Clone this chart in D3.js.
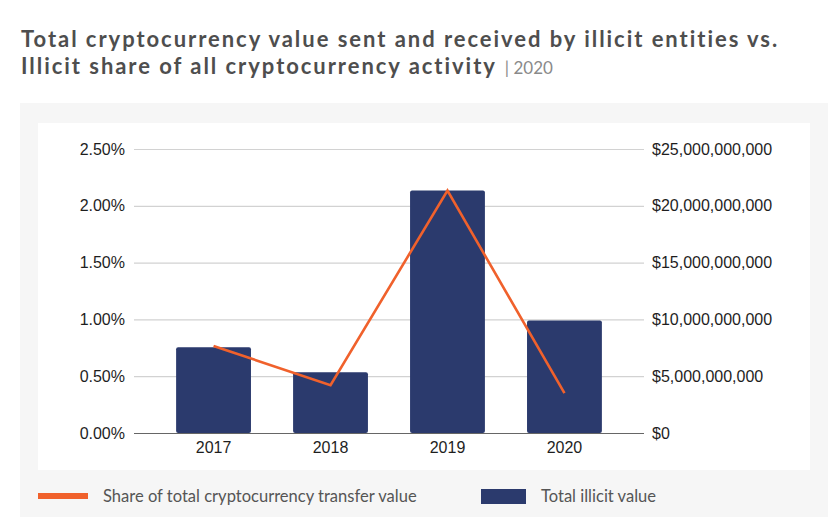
<!DOCTYPE html>
<html>
<head>
<meta charset="utf-8">
<script src="https://cdn.jsdelivr.net/npm/d3@7"></script>
<style>
  body { margin: 0; background: #fff; }
  svg { display: block; }
  .tick text { font-family: "Liberation Sans", Arial, sans-serif; font-size: 16px; fill: #1e1e1e; }
</style>
</head>
<body>
<svg id="chart" width="831" height="517"></svg>
<script>
// values
const years = ["2017", "2018", "2019", "2020"];
const illicitValue = [7.54e9, 5.35e9, 21.35e9, 9.91e9];   // USD, bars
const illicitShare = [0.766, 0.421, 2.134, 0.351];         // percent, line
const pctTicks = [0, 0.5, 1, 1.5, 2, 2.5];
const usdTicks = [0, 5e9, 10e9, 15e9, 20e9, 25e9];

const titleLines = [
    "Total cryptocurrency value sent and received by illicit entities vs.",
    "Illicit share of all cryptocurrency activity"
];
const titleSuffix = "| 2020";
const legendLabels = ["Share of total cryptocurrency transfer value", "Total illicit value"];

const orange = "#f0612c";
const navy = "#2b3a6d";

const svg = d3.select("#chart");

// shrink/grow a text's font size until it spans the wanted width
function fitWidth(sel, target) {
    const fs = parseFloat(sel.attr("font-size"));
    const w = sel.node().getComputedTextLength();
    sel.attr("font-size", (fs * target / w).toFixed(2));
}

// spread letters so the text spans the wanted width, keep the size
function spreadTo(sel, target) {
    const w = sel.node().getComputedTextLength();
    const n = sel.text().length;
    const ls = (target - w) / (n - 1);
    sel.attr("letter-spacing", ls.toFixed(3));
    return ls;
}

// title
const t1 = svg.append("text")
    .attr("x", 21).attr("y", 47)
    .attr("font-family", "Lato, 'Open Sans', sans-serif")
    .attr("font-weight", 700)
    .attr("font-size", 22)
    .attr("fill", "#4e4e4e")
    .text(titleLines[0]);
const ls = spreadTo(t1, 757);

const t2 = svg.append("text")
    .attr("x", 21).attr("y", 74)
    .attr("font-family", "Lato, 'Open Sans', sans-serif")
    .attr("font-weight", 700)
    .attr("font-size", 22)
    .attr("letter-spacing", ls.toFixed(3))
    .attr("fill", "#4e4e4e")
    .text(titleLines[1]);

const t2w = t2.node().getComputedTextLength();
svg.append("text")
    .attr("x", 21 + t2w + 8).attr("y", 74)
    .attr("font-family", "Lato, 'Open Sans', sans-serif")
    .attr("font-size", 17)
    .attr("fill", "#8a8a8a")
    .text(titleSuffix);

// panels
svg.append("rect")
    .attr("x", 20).attr("y", 103)
    .attr("width", 808).attr("height", 414)
    .attr("fill", "#f6f6f6");

svg.append("rect")
    .attr("x", 38).attr("y", 123)
    .attr("width", 772).attr("height", 347)
    .attr("fill", "#ffffff");

// plot area
const plotLeft = 134, plotRight = 644, plotTop = 149, plotBottom = 433;

const x = d3.scaleBand()
    .domain(years)
    .range([plotLeft, plotRight])
    .paddingInner(0.36)
    .paddingOuter(0.36);

const yPct = d3.scaleLinear().domain([0, 2.5]).range([plotBottom, plotTop]);
const yUsd = d3.scaleLinear().domain([0, 25e9]).range([plotBottom, plotTop]);

const leftAxis = svg.append("g")
    .attr("transform", `translate(${plotLeft},0)`)
    .call(d3.axisLeft(yPct)
        .tickValues(pctTicks)
        .tickSizeInner(-(plotRight - plotLeft))
        .tickSizeOuter(0)
        .tickPadding(9)
        .tickFormat(d => d3.format(".2f")(d) + "%"));
leftAxis.select(".domain").remove();
leftAxis.selectAll(".tick line")
    .attr("stroke", "#d2d2d2")
    .attr("stroke-width", 1.2);
leftAxis.selectAll(".tick").filter(d => d === 0).select("line").remove();

const rightAxis = svg.append("g")
    .attr("transform", `translate(${plotRight},0)`)
    .call(d3.axisRight(yUsd)
        .tickValues(usdTicks)
        .tickSize(0)
        .tickPadding(8)
        .tickFormat(d => "$" + d3.format(",")(d)));
rightAxis.select(".domain").remove();

// bars
svg.append("g")
    .selectAll("rect")
    .data(years)
    .join("rect")
    .attr("x", d => x(d))
    .attr("width", x.bandwidth())
    .attr("y", (d, i) => yUsd(illicitValue[i]))
    .attr("height", (d, i) => plotBottom - yUsd(illicitValue[i]))
    .attr("rx", 2)
    .attr("fill", navy);

// baseline
svg.append("line")
    .attr("x1", plotLeft).attr("x2", plotRight)
    .attr("y1", plotBottom + 0.5).attr("y2", plotBottom + 0.5)
    .attr("stroke", "#666")
    .attr("stroke-width", 1.2);

// share line
const line = d3.line()
    .x((d, i) => x(years[i]) + x.bandwidth() / 2)
    .y(d => yPct(d));

svg.append("path")
    .datum(illicitShare)
    .attr("d", line)
    .attr("fill", "none")
    .attr("stroke", orange)
    .attr("stroke-width", 2.6);

// x labels
const bottomAxis = svg.append("g")
    .attr("transform", `translate(0,${plotBottom})`)
    .call(d3.axisBottom(x).tickSize(0).tickPadding(9));
bottomAxis.select(".domain").remove();

// legend
svg.append("rect")
    .attr("x", 38).attr("y", 493)
    .attr("width", 50).attr("height", 6)
    .attr("fill", orange);

const l1 = svg.append("text")
    .attr("x", 103).attr("y", 502)
    .attr("font-family", "Lato, 'Open Sans', sans-serif")
    .attr("font-size", 16)
    .attr("fill", "#555")
    .text(legendLabels[0]);
fitWidth(l1, 314);

svg.append("rect")
    .attr("x", 481).attr("y", 489)
    .attr("width", 45).attr("height", 15)
    .attr("fill", navy);

svg.append("text")
    .attr("x", 541).attr("y", 502)
    .attr("font-family", "Lato, 'Open Sans', sans-serif")
    .attr("font-size", l1.attr("font-size"))
    .attr("fill", "#555")
    .text(legendLabels[1]);
</script>
</body>
</html>
